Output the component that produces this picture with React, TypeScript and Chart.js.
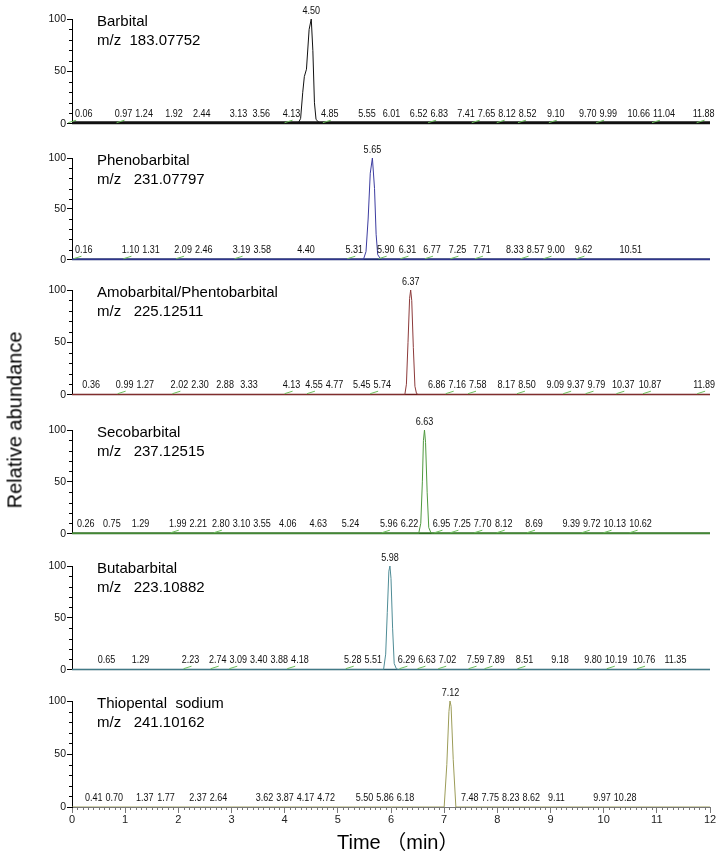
import React, { useEffect, useRef } from 'react';
import { Chart, registerables } from 'chart.js';
Chart.register(...registerables);

// ---------- data ----------
const compoundNames = ['Barbital', 'Phenobarbital', 'Amobarbital/Phentobarbital', 'Secobarbital', 'Butabarbital', 'Thiopental  sodium'];
const mzLabels = ['m/z  183.07752', 'm/z   231.07797', 'm/z   225.12511', 'm/z   237.12515', 'm/z   223.10882', 'm/z   241.10162'];
const apexTimes = [4.50, 5.65, 6.37, 6.63, 5.98, 7.12];

const barbitalTimes = [0, 4.25, 4.30, 4.34, 4.37, 4.41, 4.46, 4.50, 4.53, 4.56, 4.59, 4.65, 4.72, 12];
const barbitalAbund = [0, 0, 5, 30, 45, 52, 90, 100, 70, 20, 4, 1, 0, 0];
const phenoTimes = [0, 5.48, 5.53, 5.57, 5.61, 5.65, 5.69, 5.72, 5.75, 5.80, 5.85, 12];
const phenoAbund = [0, 0, 8, 40, 85, 100, 70, 25, 5, 1, 0, 0];
const amoTimes = [0, 6.26, 6.29, 6.32, 6.35, 6.37, 6.39, 6.42, 6.45, 6.48, 6.52, 12];
const amoAbund = [0, 0, 10, 50, 92, 100, 90, 45, 8, 1, 0, 0];
const secoTimes = [0, 6.52, 6.56, 6.59, 6.61, 6.63, 6.65, 6.68, 6.71, 6.75, 6.80, 12];
const secoAbund = [0, 0, 10, 50, 90, 100, 88, 40, 6, 1, 0, 0];
const butaTimes = [0, 5.86, 5.90, 5.93, 5.96, 5.98, 6.00, 6.03, 6.06, 6.10, 6.14, 12];
const butaAbund = [0, 0, 15, 55, 95, 100, 88, 40, 6, 1, 0, 0];
const thioTimes = [0, 7.00, 7.05, 7.09, 7.11, 7.13, 7.17, 7.22, 12];
const thioAbund = [0, 0, 40, 90, 100, 95, 45, 0, 0];

const noiseLabels1 = [0.06, 0.97, 1.24, 1.92, 2.44, 3.13, 3.56, 4.13, 4.85, 5.55, 6.01, 6.52, 6.83, 7.41, 7.65, 8.12, 8.52, 9.10, 9.70, 9.99, 10.66, 11.04, 11.88];
const noiseLabels2 = [0.16, 1.10, 1.31, 2.09, 2.46, 3.19, 3.58, 4.40, 5.31, 5.90, 6.31, 6.77, 7.25, 7.71, 8.33, 8.57, 9.00, 9.62, 10.51];
const noiseLabels3 = [0.36, 0.99, 1.27, 2.02, 2.30, 2.88, 3.33, 4.13, 4.55, 4.77, 5.45, 5.74, 6.86, 7.16, 7.58, 8.17, 8.50, 9.09, 9.37, 9.79, 10.37, 10.87, 11.89];
const noiseLabels4 = [0.26, 0.75, 1.29, 1.99, 2.21, 2.80, 3.10, 3.55, 4.06, 4.63, 5.24, 5.96, 6.22, 6.95, 7.25, 7.70, 8.12, 8.69, 9.39, 9.72, 10.13, 10.62];
const noiseLabels5 = [0.65, 1.29, 2.23, 2.74, 3.09, 3.40, 3.88, 4.18, 5.28, 5.51, 6.29, 6.63, 7.02, 7.59, 7.89, 8.51, 9.18, 9.80, 10.19, 10.76, 11.35];
const noiseLabels6 = [0.41, 0.70, 1.37, 1.77, 2.37, 2.64, 3.62, 3.87, 4.17, 4.72, 5.50, 5.86, 6.18, 7.48, 7.75, 8.23, 8.62, 9.11, 9.97, 10.28];

const greenMarks1 = [0.06, 0.97, 4.13, 4.85, 6.83, 7.65, 8.12, 8.52, 9.10, 9.99, 11.04, 11.88];
const greenMarks2 = [0.16, 1.10, 2.09, 3.19, 5.31, 5.90, 6.31, 6.77, 7.25, 7.71, 8.57, 9.00, 9.62];
const greenMarks3 = [0.99, 2.02, 4.13, 4.55, 5.74, 7.16, 7.58, 8.50, 9.37, 9.79, 10.37, 10.87, 11.89];
const greenMarks4 = [1.99, 2.80, 5.96, 6.95, 7.25, 7.70, 8.12, 8.69, 9.72, 10.13, 10.62];
const greenMarks5 = [2.23, 2.74, 3.09, 4.18, 5.28, 6.29, 6.63, 7.02, 7.59, 7.89, 8.51, 10.19, 10.76];
const greenMarks6: number[] = [];

const yTickValues = [0, 50, 100];
const xTickLabels = ['0', '1', '2', '3', '4', '5', '6', '7', '8', '9', '10', '11', '12'];

const traceTimes = [barbitalTimes, phenoTimes, amoTimes, secoTimes, butaTimes, thioTimes];
const traceAbund = [barbitalAbund, phenoAbund, amoAbund, secoAbund, butaAbund, thioAbund];
const noiseLabels = [noiseLabels1, noiseLabels2, noiseLabels3, noiseLabels4, noiseLabels5, noiseLabels6];
const greenMarks = [greenMarks1, greenMarks2, greenMarks3, greenMarks4, greenMarks5, greenMarks6];

// ---------- layout / style ----------
const panelTop = [19, 158, 290, 430, 566, 701];
const panelBottom = [126, 262, 397, 536, 672, 807];
const traceColors = ['#111111', '#3c3ca0', '#8c3a3a', '#4f9a3f', '#4f8c96', '#9c9c58'];
const baseColors = ['#111111', '#1f2d70', '#6e1c1c', '#2e6e22', '#2f6070', '#777777'];
const baseWidths = [3, 2, 1.5, 2, 1.5, 0];
const NARROW = "'Liberation Sans Narrow', 'Arial Narrow', 'Liberation Sans', Arial, sans-serif";
const SANS = "'Liberation Sans', Arial, 'Noto Sans CJK SC', sans-serif";
const PAD_TOP = 24;
const PAD_BOTTOM = 5;
const CANVAS_H_LAST_BOTTOM = 856;
const SQUEEZE = 0.82;

function drawNarrow(ctx: CanvasRenderingContext2D, txt: string, cx: number, by: number) {
  ctx.save();
  ctx.translate(cx, by);
  ctx.scale(SQUEEZE, 1);
  ctx.fillText(txt, 0, 0);
  ctx.restore();
}

function makePlugin(i: number) {
  return {
    id: 'annot' + i,
    beforeDatasetsDraw(chart: any) {
      const { ctx, scales } = chart;
      const x = scales.x, y = scales.y;
      const y0 = y.getPixelForValue(0);
      ctx.save();
      if (baseWidths[i] > 0) {
        ctx.strokeStyle = baseColors[i];
        ctx.lineWidth = baseWidths[i];
        ctx.beginPath();
        ctx.moveTo(x.getPixelForValue(0), y0 - baseWidths[i] / 2 + 0.5);
        ctx.lineTo(x.getPixelForValue(12), y0 - baseWidths[i] / 2 + 0.5);
        ctx.stroke();
      }
      ctx.restore();
    },
    afterDatasetsDraw(chart: any) {
      const { ctx, chartArea, scales } = chart;
      const x = scales.x, y = scales.y;
      const y0 = y.getPixelForValue(0);
      ctx.save();
      // minor y ticks
      ctx.strokeStyle = '#000';
      ctx.lineWidth = 1;
      for (let v = 10; v < 100; v += 10) {
        if (v % 50 === 0) continue;
        const py = Math.round(y.getPixelForValue(v)) + 0.5;
        ctx.beginPath();
        ctx.moveTo(chartArea.left, py);
        ctx.lineTo(chartArea.left - 3, py);
        ctx.stroke();
      }
      // minor x ticks on last panel
      if (i === 5) {
        ctx.strokeStyle = '#777';
        for (let k = 1; k < 120; k++) {
          if (k % 10 === 0) continue;
          const px = Math.round(x.getPixelForValue(k / 10)) + 0.5;
          ctx.beginPath();
          ctx.moveTo(px, y0);
          ctx.lineTo(px, y0 + 3);
          ctx.stroke();
        }
      }
      // green marks
      ctx.strokeStyle = '#6cbf5c';
      ctx.lineWidth = 1;
      for (const t of greenMarks[i]) {
        const px = x.getPixelForValue(t);
        ctx.beginPath();
        ctx.moveTo(px - 7, y0 - 1);
        ctx.lineTo(px + 1, y0 - 3.5);
        ctx.stroke();
      }
      // noise labels
      ctx.fillStyle = '#111';
      ctx.font = `11px ${NARROW}`;
      ctx.textAlign = 'center';
      ctx.textBaseline = 'bottom';
      let prevRight = chartArea.left;
      for (const t of noiseLabels[i]) {
        const txt = t.toFixed(2);
        const w = ctx.measureText(txt).width * SQUEEZE;
        let cx = x.getPixelForValue(t);
        if (cx - w / 2 < prevRight + 3) cx = prevRight + 3 + w / 2;
        drawNarrow(ctx, txt, cx, y0 - 4);
        prevRight = cx + w / 2;
      }
      // apex label
      const maxV = Math.max(...traceAbund[i]);
      drawNarrow(ctx, apexTimes[i].toFixed(2), x.getPixelForValue(apexTimes[i]), y.getPixelForValue(maxV) - 3);
      // compound name and m/z
      ctx.textAlign = 'left';
      ctx.textBaseline = 'middle';
      ctx.font = `15px ${SANS}`;
      ctx.fillStyle = '#000';
      ctx.fillText(compoundNames[i], 97, chartArea.top + 3);
      ctx.fillText(mzLabels[i], 97, chartArea.top + 22);
      ctx.restore();
    },
  };
}

function Panel({ i }: { i: number }) {
  const ref = useRef<HTMLCanvasElement>(null);
  const isLast = i === 5;
  const canvasTop = panelTop[i] - PAD_TOP;
  const plotBottomRel = panelBottom[i] - canvasTop;
  const height = isLast ? CANVAS_H_LAST_BOTTOM - canvasTop : plotBottomRel + PAD_BOTTOM;
  useEffect(() => {
    if (!ref.current) return;
    const chart = new Chart(ref.current, {
      type: 'line',
      data: {
        datasets: [
          {
            data: traceTimes[i].map((t, k) => ({ x: t, y: traceAbund[i][k] })),
            borderColor: traceColors[i],
            borderWidth: 1,
            pointRadius: 0,
            tension: 0,
            fill: false,
          },
        ],
      },
      options: {
        responsive: false,
        animation: false,
        events: [],
        layout: { autoPadding: false, padding: { top: PAD_TOP, bottom: isLast ? 0 : PAD_BOTTOM, left: 0, right: 8 } },
        plugins: { legend: { display: false }, tooltip: { enabled: false } },
        scales: {
          x: {
            type: 'linear',
            min: 0,
            max: 12,
            display: isLast,
            ticks: {
              stepSize: 1,
              autoSkip: false,
              maxRotation: 0,
              padding: 0,
              color: '#222',
              font: { family: NARROW, size: 11 },
              callback: (v: any) => (xTickLabels.includes(String(v)) ? String(v) : ''),
            },
            grid: { drawOnChartArea: false, tickLength: 6, color: '#777' },
            border: { color: '#777' },
            afterFit: (s: any) => {
              s.height = isLast ? CANVAS_H_LAST_BOTTOM - panelBottom[5] : 0;
            },
          },
          y: {
            min: 0,
            max: 100,
            afterBuildTicks: (s: any) => {
              s.ticks = yTickValues.map((v) => ({ value: v }));
            },
            ticks: { color: '#111', padding: 1, font: { family: NARROW, size: 10.5 } },
            grid: { drawOnChartArea: false, tickLength: 5, color: '#000' },
            border: { color: '#000' },
            afterFit: (s: any) => {
              s.width = 72;
            },
          },
        },
      },
      plugins: [makePlugin(i)],
    } as any);
    return () => chart.destroy();
  }, [i]);
  return (
    <canvas
      ref={ref}
      width={718}
      height={height}
      style={{ position: 'absolute', left: 0, top: canvasTop, width: 718, height }}
    />
  );
}

export default function App() {
  return (
    <div style={{ position: 'absolute', left: 0, top: 0, width: 718, height: 856, background: '#fff', overflow: 'hidden' }}>
      {[0, 1, 2, 3, 4, 5].map((i) => (
        <Panel key={i} i={i} />
      ))}
      <div
        style={{
          position: 'absolute',
          left: 15,
          top: 420,
          transform: 'translate(-50%, -50%) rotate(-90deg)',
          whiteSpace: 'nowrap',
          fontFamily: SANS,
          fontSize: 20,
          color: '#000',
        }}
      >
        Relative abundance
      </div>
      <div
        style={{
          position: 'absolute',
          left: 337,
          top: 830,
          whiteSpace: 'pre',
          fontFamily: SANS,
          fontSize: 20,
          color: '#000',
          lineHeight: '24px',
        }}
      >
        Time （min）
      </div>
    </div>
  );
}
